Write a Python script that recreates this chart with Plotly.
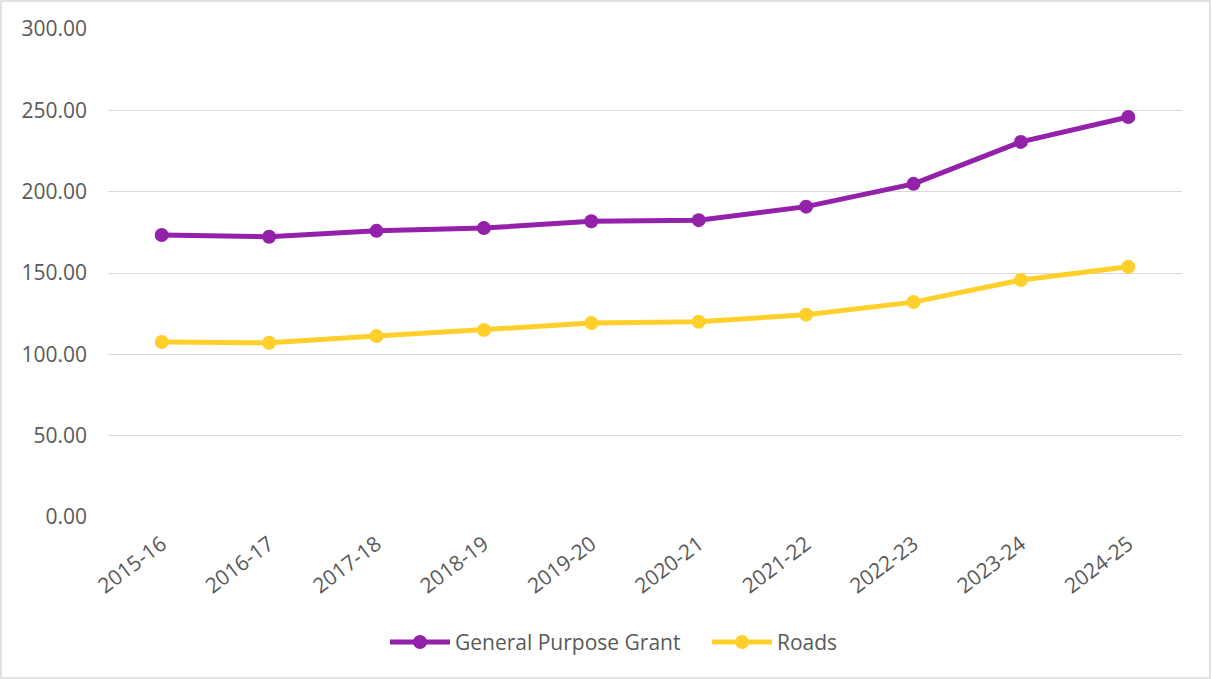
import plotly.graph_objects as go

years = ["2015-16", "2016-17", "2017-18", "2018-19", "2019-20",
         "2020-21", "2021-22", "2022-23", "2023-24", "2024-25"]
general_purpose_grant = [173.4, 172.3, 175.9, 177.6, 181.8, 182.5, 190.8, 204.8, 230.6, 245.9]
roads = [107.6, 107.1, 111.2, 115.0, 119.2, 120.0, 124.4, 132.1, 145.7, 153.8]

W, H = 1212, 679
ml, mr, mt, mb = 108, 30, 29, 162

fig = go.Figure()
fig.add_trace(go.Scatter(
    x=years, y=general_purpose_grant, name="General Purpose Grant",
    mode="lines+markers",
    line=dict(color="#9321AA", width=5),
    marker=dict(color="#9321AA", size=14),
))
fig.add_trace(go.Scatter(
    x=years, y=roads, name="Roads",
    mode="lines+markers",
    line=dict(color="#FFD02B", width=5),
    marker=dict(color="#FFD02B", size=14),
))

pw = W - ml - mr
ph = H - mt - mb
fig.add_shape(type="rect", xref="paper", yref="paper",
              x0=-(ml - 1) / pw, x1=1 + (mr - 2) / pw,
              y0=-(mb - 1) / ph, y1=1 + (mt - 1) / ph,
              line=dict(color="#D9D9D9", width=1.5), layer="below")

fig.update_layout(
    width=W, height=H,
    margin=dict(l=ml, r=mr, t=mt, b=mb),
    paper_bgcolor="white", plot_bgcolor="white",
    font=dict(family="Open Sans", size=21, color="#595959"),
    showlegend=True,
    legend=dict(orientation="h", xref="container", yref="container",
                x=385 / W, xanchor="left", y=0.054, yanchor="middle",
                font=dict(size=21, color="#595959"), itemwidth=60,
                entrywidth=247, entrywidthmode="pixels"),
    xaxis=dict(type="category", showgrid=False, showline=False, ticks="",
               tickangle=-37, tickfont=dict(size=21), ticklabelstandoff=10,
               range=[-0.5, 9.5]),
    yaxis=dict(range=[0, 300], dtick=50, tickformat=".2f",
               showgrid=True, gridcolor="#D9D9D9", gridwidth=1,
               zeroline=False, showline=False, ticks="",
               tickfont=dict(size=21), ticklabelstandoff=20),
)

fig.write_html("out.html", config={"displayModeBar": False},
               post_script="document.body.style.margin='0';document.body.style.overflow='hidden';")
